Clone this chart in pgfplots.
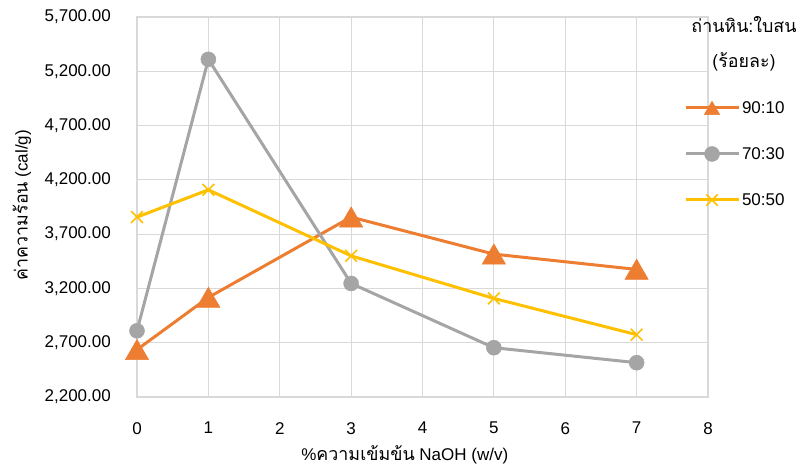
\documentclass[border=0pt]{standalone}
\usepackage{fontspec}
\setmainfont{Liberation Sans}
\newfontfamily\thaifont[Script=Thai, Scale=1.05]{Loma}
\usepackage{pgfplots}
\pgfplotsset{compat=1.18}
\definecolor{cOrange}{RGB}{237,125,49}
\definecolor{cGray}{RGB}{165,165,165}
\definecolor{cYellow}{RGB}{255,192,0}
\definecolor{cGrid}{RGB}{217,217,217}
\begin{document}
\begin{tikzpicture}
\useasboundingbox (0bp,0bp) rectangle (797bp,469bp);
\begin{axis}[
  at={(137bp,72bp)}, anchor=south west,
  scale only axis, width=571bp, height=380bp,
  xmin=0, xmax=8, ymin=2200, ymax=5700,
  xtick={0,1,...,8},
  ytick={2200,2700,3200,3700,4200,4700,5200,5700},
  major tick length=0pt,
  grid=major,
  major grid style={draw=cGrid, line width=1.2bp},
  axis line style={draw=cGrid, line width=1.2bp},
  clip=false,
  font=\fontsize{17bp}{20bp}\selectfont,
  /pgf/number format/assume math mode=true,
  yticklabel style={/pgf/number format/fixed, /pgf/number format/fixed zerofill,
    /pgf/number format/precision=2, /pgf/number format/1000 sep={,},
    inner sep=0pt, xshift=-26bp},
  xticklabel style={/pgf/number format/fixed, /pgf/number format/precision=0,
    inner sep=0pt, anchor=north, yshift=-25bp},
  xlabel={\%{\thaifont ความเข้มข้น} NaOH (w/v)},
  ylabel={{\thaifont ค่าความร้อน} (cal/g)},
  xlabel style={at={(axis description cs:0.469,-0.1526)}, anchor=center, font=\fontsize{17bp}{20bp}\selectfont},
  ylabel style={at={(axis description cs:-0.2014,0.505)}, anchor=center, font=\fontsize{17bp}{20bp}\selectfont},
  legend image code/.code={
    \draw[mark repeat=2,mark phase=2,#1] plot coordinates {(0bp,0bp) (26.5bp,0bp) (53bp,0bp)};
  },
  legend cell align=left,
  legend style={at={(axis description cs:0.958,0.6395)}, anchor=west, draw=none, fill=none,
    inner sep=0pt, outer sep=0pt, row sep=16bp,
    font=\fontsize{17bp}{20bp}\selectfont,
    nodes={inner ysep=0pt, inner xsep=2bp, minimum height=30bp, anchor=west}},
]
\addplot[forget plot, color=cOrange, line width=3bp, mark=triangle*, mark size=13.5bp, mark options={fill=cOrange, draw=cOrange, line width=0.5bp, yshift=-3.3bp}]
  coordinates {(0,2636) (1,3117) (3,3857) (5,3516) (7,3375)};
\addplot[forget plot, color=cGray, line width=3bp, mark=*, mark size=7.5bp, mark options={fill=cGray, draw=cGray, line width=0.5bp}]
  coordinates {(0,2810) (1,5310) (3,3246) (5,2654) (7,2516)};
\addplot[forget plot, color=cYellow, line width=3bp, mark=x, mark size=8.3bp, mark options={draw=cYellow, line width=1.6bp}]
  coordinates {(0,3857) (1,4108) (3,3500) (5,3108) (7,2774)};
\addlegendimage{color=cOrange, line width=3bp, mark=triangle*, mark size=9bp, mark options={fill=cOrange, draw=cOrange, line width=0.5bp, yshift=-2.2bp}}
\addlegendentry{90:10}
\addlegendimage{color=cGray, line width=3bp, mark=*, mark size=7.5bp, mark options={fill=cGray, draw=cGray, line width=0.5bp}}
\addlegendentry{70:30}
\addlegendimage{color=cYellow, line width=3bp, mark=x, mark size=8bp, mark options={draw=cYellow, line width=1.6bp}}
\addlegendentry{50:50}
\end{axis}
\node[font=\fontsize{17bp}{20bp}\selectfont\thaifont, anchor=center] at (744bp,444bp) {ถ่านหิน:ใบสน};
\node[font=\fontsize{17bp}{20bp}\selectfont\thaifont, anchor=center] at (744bp,407bp) {(ร้อยละ)};
\end{tikzpicture}
\end{document}
